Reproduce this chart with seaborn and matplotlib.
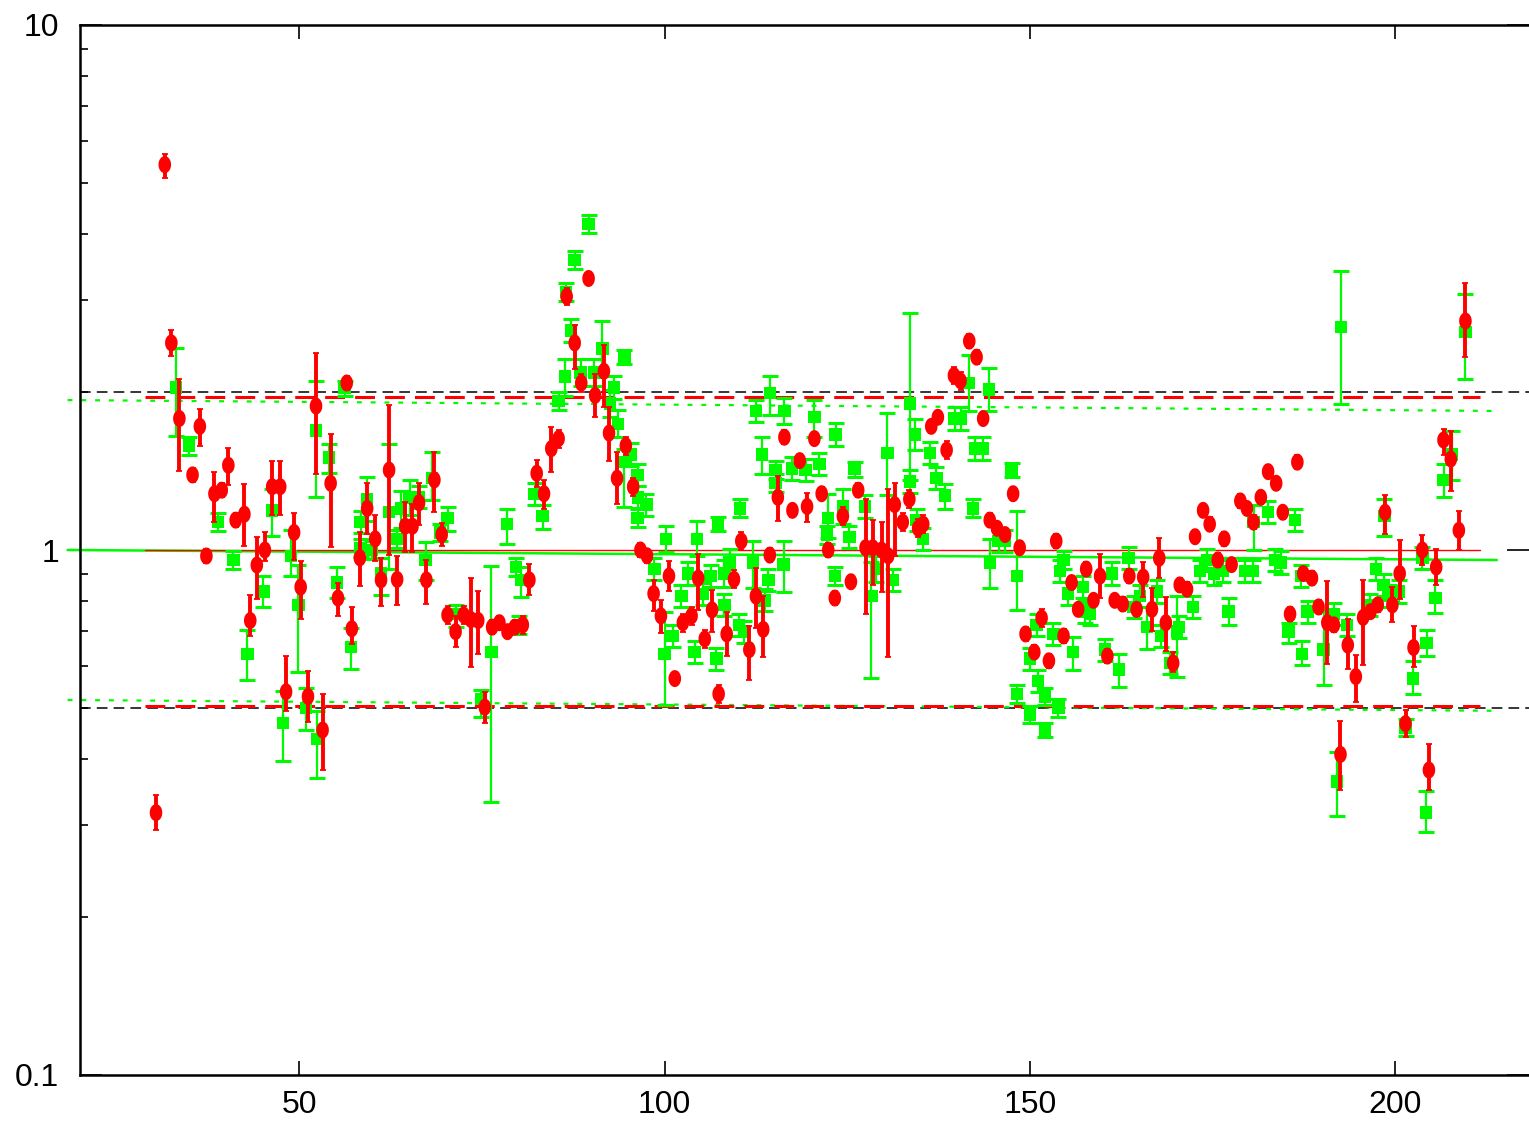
import numpy as np
import pandas as pd
import matplotlib
matplotlib.use("Agg")
import matplotlib.pyplot as plt
from matplotlib.path import Path
from matplotlib.ticker import LogLocator, NullFormatter, FixedLocator, FixedFormatter
import seaborn as sns

# ---- red series: position, value, upper / lower error factors ----
red_x = [30.4, 31.6, 32.5, 33.6, 35.4, 36.4, 37.3, 38.4, 39.4, 40.3,
         41.3, 42.5, 43.3, 44.2, 45.3, 46.3, 47.4, 48.2, 49.3, 50.2,
         51.2, 52.3, 53.2, 54.3, 55.3, 56.5, 57.2, 58.3, 59.3, 60.4,
         61.2, 62.3, 63.4, 64.5, 65.5, 66.4, 67.4, 68.5, 69.5, 70.3,
         71.4, 72.5, 73.5, 74.5, 75.4, 76.4, 77.4, 78.5, 79.5, 80.6,
         81.5, 82.5, 83.5, 84.5, 85.5, 86.6, 87.7, 88.6, 89.6, 90.5,
         91.7, 92.4, 93.5, 94.7, 95.7, 96.7, 97.6, 98.5, 99.5, 100.6,
         101.4, 102.5, 103.7, 104.6, 105.5, 106.5, 107.4, 108.5, 109.5, 110.5,
         111.6, 112.5, 113.5, 114.4, 115.5, 116.4, 117.5, 118.5, 119.5, 120.5,
         121.5, 122.4, 123.3, 124.4, 125.5, 126.5, 127.5, 128.5, 129.7, 130.6,
         131.5, 132.6, 133.5, 134.7, 135.4, 136.5, 137.4, 138.6, 139.6, 140.5,
         141.7, 142.7, 143.6, 144.5, 145.5, 146.6, 147.7, 148.6, 149.4, 150.6,
         151.6, 152.6, 153.6, 154.6, 155.7, 156.6, 157.7, 158.7, 159.6, 160.6,
         161.6, 162.7, 163.6, 164.6, 165.5, 166.7, 167.7, 168.6, 169.6, 170.5,
         171.5, 172.6, 173.7, 174.6, 175.7, 176.6, 177.6, 178.8, 179.7, 180.6,
         181.6, 182.6, 183.7, 184.6, 185.6, 186.6, 187.4, 188.6, 189.5, 190.7,
         191.6, 192.5, 193.5, 194.6, 195.6, 196.6, 197.6, 198.6, 199.6, 200.6,
         201.4, 202.5, 203.7, 204.6, 205.6, 206.6, 207.6, 208.7, 209.6]
red_y = [0.316, 5.42, 2.48, 1.78, 1.39, 1.72, 0.974, 1.28, 1.30, 1.45,
         1.14, 1.17, 0.734, 0.936, 1.00, 1.32, 1.32, 0.537, 1.08, 0.850,
         0.526, 1.88, 0.454, 1.34, 0.810, 2.08, 0.708, 0.966, 1.20, 1.05,
         0.877, 1.42, 0.879, 1.11, 1.11, 1.23, 0.877, 1.36, 1.07, 0.752,
         0.699, 0.752, 0.737, 0.734, 0.502, 0.713, 0.727, 0.699, 0.713, 0.720,
         0.877, 1.40, 1.28, 1.56, 1.63, 3.04, 2.48, 2.08, 3.29, 1.97,
         2.19, 1.67, 1.37, 1.58, 1.32, 1.00, 0.975, 0.826, 0.749, 0.892,
         0.569, 0.727, 0.749, 0.884, 0.677, 0.769, 0.532, 0.692, 0.879, 1.04,
         0.646, 0.817, 0.706, 0.978, 1.26, 1.64, 1.19, 1.48, 1.21, 1.63,
         1.28, 1.00, 0.810, 1.16, 0.870, 1.30, 1.01, 1.01, 1.00, 0.975,
         1.22, 1.13, 1.25, 1.10, 1.12, 1.72, 1.79, 1.55, 2.15, 2.10,
         2.50, 2.33, 1.78, 1.14, 1.10, 1.07, 1.28, 1.01, 0.692, 0.639,
         0.742, 0.615, 1.04, 0.686, 0.867, 0.771, 0.920, 0.802, 0.892, 0.628,
         0.802, 0.789, 0.892, 0.771, 0.888, 0.771, 0.965, 0.727, 0.609, 0.858,
         0.842, 1.06, 1.19, 1.12, 0.957, 1.05, 0.938, 1.24, 1.20, 1.13,
         1.26, 1.41, 1.34, 1.18, 0.755, 1.47, 0.902, 0.884, 0.779, 0.727,
         0.720, 0.408, 0.659, 0.574, 0.744, 0.763, 0.786, 1.18, 0.786, 0.902,
         0.467, 0.652, 1.00, 0.381, 0.928, 1.62, 1.49, 1.09, 2.73]
red_up = [1.08, 1.05, 1.06, 1.19, 1.03, 1.08, 1.03, 1.10, 1.03, 1.08,
          1.03, 1.14, 1.12, 1.13, 1.08, 1.12, 1.12, 1.17, 1.09, 1.12,
          1.12, 1.26, 1.17, 1.24, 1.07, 1.03, 1.10, 1.12, 1.12, 1.11,
          1.10, 1.33, 1.11, 1.11, 1.10, 1.09, 1.09, 1.13, 1.05, 1.04,
          1.07, 1.04, 1.20, 1.14, 1.07, 1.03, 1.03, 1.03, 1.03, 1.04,
          1.07, 1.06, 1.06, 1.10, 1.04, 1.04, 1.08, 1.04, 1.03, 1.10,
          1.12, 1.12, 1.12, 1.04, 1.04, 1.03, 1.03, 1.06, 1.07, 1.07,
          1.03, 1.04, 1.04, 1.11, 1.04, 1.09, 1.04, 1.10, 1.04, 1.04,
          1.11, 1.13, 1.16, 1.03, 1.10, 1.03, 1.03, 1.03, 1.06, 1.03,
          1.03, 1.03, 1.03, 1.04, 1.03, 1.03, 1.24, 1.13, 1.13, 1.34,
          1.10, 1.04, 1.04, 1.04, 1.04, 1.03, 1.03, 1.04, 1.04, 1.04,
          1.03, 1.03, 1.03, 1.03, 1.03, 1.03, 1.03, 1.03, 1.03, 1.03,
          1.04, 1.03, 1.03, 1.03, 1.03, 1.03, 1.03, 1.03, 1.10, 1.03,
          1.03, 1.03, 1.03, 1.03, 1.07, 1.10, 1.09, 1.12, 1.05, 1.03,
          1.03, 1.03, 1.03, 1.03, 1.03, 1.03, 1.03, 1.03, 1.03, 1.03,
          1.03, 1.03, 1.03, 1.03, 1.03, 1.03, 1.03, 1.03, 1.03, 1.20,
          1.03, 1.16, 1.12, 1.10, 1.18, 1.03, 1.03, 1.08, 1.08, 1.16,
          1.06, 1.10, 1.07, 1.12, 1.08, 1.05, 1.13, 1.09, 1.18]
red_dn = [1.08, 1.06, 1.06, 1.26, 1.03, 1.09, 1.03, 1.13, 1.03, 1.09,
          1.03, 1.15, 1.07, 1.16, 1.05, 1.13, 1.13, 1.09, 1.13, 1.15,
          1.12, 1.35, 1.19, 1.32, 1.08, 1.03, 1.07, 1.13, 1.12, 1.10,
          1.12, 1.45, 1.12, 1.12, 1.12, 1.10, 1.11, 1.15, 1.05, 1.04,
          1.07, 1.04, 1.23, 1.16, 1.07, 1.03, 1.03, 1.03, 1.03, 1.04,
          1.07, 1.06, 1.07, 1.11, 1.04, 1.04, 1.12, 1.04, 1.03, 1.10,
          1.17, 1.13, 1.12, 1.04, 1.04, 1.03, 1.03, 1.08, 1.08, 1.07,
          1.03, 1.04, 1.04, 1.15, 1.04, 1.10, 1.04, 1.10, 1.04, 1.04,
          1.14, 1.15, 1.13, 1.03, 1.11, 1.03, 1.03, 1.03, 1.07, 1.03,
          1.03, 1.03, 1.03, 1.04, 1.03, 1.03, 1.34, 1.18, 1.20, 1.56,
          1.25, 1.04, 1.04, 1.04, 1.04, 1.03, 1.03, 1.04, 1.04, 1.04,
          1.03, 1.03, 1.03, 1.03, 1.03, 1.03, 1.03, 1.03, 1.03, 1.03,
          1.04, 1.03, 1.03, 1.03, 1.03, 1.03, 1.03, 1.03, 1.10, 1.03,
          1.03, 1.03, 1.03, 1.03, 1.09, 1.10, 1.09, 1.13, 1.04, 1.03,
          1.03, 1.03, 1.03, 1.03, 1.03, 1.03, 1.03, 1.03, 1.03, 1.03,
          1.03, 1.03, 1.03, 1.03, 1.03, 1.03, 1.03, 1.03, 1.03, 1.20,
          1.03, 1.17, 1.11, 1.12, 1.23, 1.03, 1.03, 1.10, 1.08, 1.12,
          1.06, 1.09, 1.07, 1.09, 1.08, 1.07, 1.15, 1.09, 1.17]

# ---- green series ----
green_x = [33.1, 34.9, 38.9, 41.0, 42.9, 45.1, 46.3, 47.8, 48.9, 49.9,
           50.9, 52.5, 52.3, 54.1, 55.2, 56.2, 57.1, 58.4, 58.4, 59.3,
           60.0, 61.2, 62.3, 63.4, 63.9, 65.1, 66.4, 67.3, 68.2, 69.3,
           70.3, 71.5, 74.9, 76.3, 78.4, 79.7, 80.4, 80.1, 82.2, 83.3,
           85.5, 86.4, 86.5, 87.2, 87.7, 88.5, 89.6, 90.4, 91.5, 92.5,
           93.1, 93.6, 94.5, 94.5, 95.4, 96.3, 96.4, 97.5, 96.3, 98.6,
           100.0, 100.2, 101.1, 102.3, 103.2, 104.1, 104.4, 105.2, 106.3, 107.1,
           107.3, 108.2, 108.2, 108.9, 110.2, 110.3, 110.9, 112.1, 112.5, 113.3,
           113.7, 114.2, 114.4, 115.2, 115.2, 116.3, 116.4, 117.4, 119.3, 120.5,
           121.2, 122.4, 122.2, 123.3, 123.4, 124.4, 125.3, 126.0, 127.4, 128.3,
           129.0, 130.5, 131.3, 133.6, 133.6, 134.3, 134.5, 135.4, 136.3, 137.2,
           138.4, 139.7, 140.6, 141.6, 142.2, 142.5, 143.6, 144.4, 144.5, 145.7,
           146.6, 147.5, 148.2, 148.2, 150.0, 150.0, 150.9, 151.1, 152.1, 152.1,
           153.2, 153.9, 154.1, 154.6, 155.2, 155.9, 157.3, 157.5, 158.2, 160.3,
           161.2, 162.2, 163.5, 164.2, 165.1, 166.0, 167.4, 168.0, 169.2, 170.1,
           170.4, 172.3, 173.3, 174.2, 175.2, 176.4, 177.2, 179.5, 180.5, 180.6,
           182.6, 183.6, 184.3, 185.4, 186.3, 187.1, 187.2, 188.0, 190.2, 191.6,
           192.0, 192.6, 193.4, 196.6, 197.4, 198.4, 198.5, 199.1, 200.5, 201.4,
           202.4, 203.7, 204.2, 204.3, 205.5, 206.6, 207.8, 209.6]
green_y = [2.04, 1.58, 1.13, 0.957, 0.634, 0.834, 1.19, 0.468, 0.974, 0.786,
           0.500, 0.437, 1.69, 1.50, 0.867, 2.04, 0.653, 1.13, 1.01, 1.25,
           1.00, 0.902, 1.18, 1.05, 1.20, 1.26, 1.26, 0.957, 1.37, 1.08,
           1.15, 0.755, 0.520, 0.639, 1.12, 0.928, 0.877, 0.720, 1.28, 1.16,
           1.92, 2.14, 3.10, 2.62, 3.57, 2.18, 4.18, 2.18, 2.42, 1.90,
           2.04, 1.74, 2.33, 1.47, 1.52, 1.39, 1.26, 1.22, 1.15, 0.920,
           0.634, 1.05, 0.686, 0.817, 0.902, 0.639, 1.05, 0.824, 0.892, 0.621,
           1.12, 0.902, 0.786, 0.947, 0.720, 1.20, 0.699, 0.947, 1.84, 1.52,
           0.802, 0.877, 1.99, 1.42, 1.34, 0.938, 1.84, 1.43, 1.42, 1.79,
           1.46, 1.15, 1.07, 0.892, 1.66, 1.21, 1.06, 1.43, 1.21, 0.817,
           0.920, 1.53, 0.877, 1.90, 1.35, 1.66, 1.14, 1.05, 1.53, 1.37,
           1.27, 1.78, 1.78, 2.08, 1.20, 1.56, 1.56, 2.02, 0.947, 1.04,
           1.04, 1.42, 0.892, 0.532, 0.486, 0.621, 0.720, 0.563, 0.526, 0.454,
           0.692, 0.501, 0.911, 0.957, 0.826, 0.639, 0.850, 0.763, 0.755, 0.646,
           0.902, 0.592, 0.965, 0.779, 0.817, 0.713, 0.834, 0.686, 0.609, 0.699,
           0.713, 0.779, 0.911, 0.957, 0.902, 0.911, 0.763, 0.911, 0.911, 1.13,
           1.18, 0.957, 0.947, 0.699, 1.14, 0.892, 0.634, 0.763, 0.646, 0.755,
           0.362, 2.66, 0.720, 0.786, 0.920, 0.858, 1.16, 0.817, 0.834, 0.459,
           0.569, 0.965, 0.316, 0.665, 0.810, 1.36, 1.52, 2.60]
green_up = [1.19, 1.04, 1.04, 1.04, 1.11, 1.07, 1.10, 1.15, 1.12, 1.19,
            1.09, 1.13, 1.24, 1.06, 1.07, 1.03, 1.09, 1.05, 1.04, 1.10,
            1.04, 1.07, 1.35, 1.04, 1.08, 1.08, 1.05, 1.08, 1.12, 1.04,
            1.05, 1.04, 1.04, 1.46, 1.07, 1.04, 1.06, 1.04, 1.05, 1.05,
            1.04, 1.08, 1.04, 1.05, 1.04, 1.06, 1.04, 1.06, 1.13, 1.06,
            1.05, 1.06, 1.03, 1.06, 1.05, 1.05, 1.05, 1.05, 1.04, 1.05,
            1.20, 1.06, 1.05, 1.05, 1.05, 1.05, 1.08, 1.05, 1.05, 1.05,
            1.03, 1.06, 1.05, 1.06, 1.05, 1.04, 1.05, 1.10, 1.05, 1.08,
            1.05, 1.05, 1.08, 1.04, 1.04, 1.11, 1.06, 1.05, 1.05, 1.08,
            1.05, 1.11, 1.04, 1.04, 1.05, 1.08, 1.05, 1.03, 1.05, 1.16,
            1.06, 1.19, 1.05, 1.49, 1.05, 1.07, 1.05, 1.05, 1.05, 1.05,
            1.05, 1.05, 1.05, 1.13, 1.04, 1.05, 1.05, 1.10, 1.11, 1.05,
            1.05, 1.03, 1.33, 1.04, 1.04, 1.05, 1.05, 1.05, 1.04, 1.03,
            1.05, 1.04, 1.05, 1.04, 1.05, 1.07, 1.05, 1.05, 1.05, 1.05,
            1.05, 1.07, 1.05, 1.05, 1.05, 1.09, 1.05, 1.05, 1.05, 1.17,
            1.05, 1.05, 1.05, 1.05, 1.05, 1.05, 1.06, 1.05, 1.05, 1.08,
            1.05, 1.05, 1.05, 1.04, 1.05, 1.05, 1.06, 1.05, 1.19, 1.05,
            1.14, 1.28, 1.05, 1.05, 1.05, 1.05, 1.08, 1.05, 1.05, 1.04,
            1.08, 1.05, 1.10, 1.06, 1.08, 1.07, 1.11, 1.18]
green_dn = [1.24, 1.04, 1.04, 1.04, 1.12, 1.07, 1.12, 1.18, 1.09, 1.34,
            1.10, 1.19, 1.34, 1.07, 1.07, 1.04, 1.10, 1.05, 1.04, 1.10,
            1.04, 1.10, 1.28, 1.04, 1.09, 1.08, 1.05, 1.09, 1.10, 1.04,
            1.06, 1.06, 1.08, 1.93, 1.09, 1.04, 1.08, 1.04, 1.05, 1.06,
            1.04, 1.09, 1.04, 1.05, 1.04, 1.06, 1.04, 1.06, 1.13, 1.06,
            1.05, 1.06, 1.03, 1.22, 1.05, 1.05, 1.05, 1.05, 1.04, 1.05,
            1.25, 1.06, 1.05, 1.05, 1.05, 1.05, 1.08, 1.05, 1.05, 1.05,
            1.03, 1.06, 1.05, 1.06, 1.05, 1.04, 1.05, 1.12, 1.05, 1.09,
            1.05, 1.05, 1.10, 1.04, 1.04, 1.13, 1.06, 1.05, 1.05, 1.09,
            1.05, 1.09, 1.04, 1.04, 1.05, 1.08, 1.05, 1.04, 1.05, 1.43,
            1.06, 1.20, 1.05, 1.40, 1.05, 1.07, 1.05, 1.05, 1.05, 1.05,
            1.06, 1.05, 1.05, 1.13, 1.04, 1.05, 1.05, 1.10, 1.12, 1.05,
            1.05, 1.03, 1.16, 1.04, 1.04, 1.05, 1.05, 1.05, 1.04, 1.03,
            1.05, 1.04, 1.05, 1.04, 1.05, 1.08, 1.05, 1.05, 1.05, 1.05,
            1.05, 1.08, 1.05, 1.05, 1.05, 1.10, 1.05, 1.05, 1.05, 1.22,
            1.05, 1.05, 1.05, 1.05, 1.05, 1.05, 1.06, 1.05, 1.05, 1.13,
            1.05, 1.05, 1.05, 1.05, 1.05, 1.05, 1.05, 1.05, 1.17, 1.05,
            1.16, 1.40, 1.05, 1.05, 1.05, 1.05, 1.09, 1.05, 1.05, 1.04,
            1.07, 1.05, 1.09, 1.06, 1.07, 1.08, 1.12, 1.23]

# ---- reference levels ----
black_levels = [2.0, 0.5]
red_band_x = [28.9, 211.6]
red_levels = [1.96, 1.0, 0.504]
green_band_x = [18.3, 213.9]
green_upper = [1.93, 1.84]
green_middle = [1.0, 0.957]
green_lower = [0.518, 0.494]

x_ticks = [50, 100, 150, 200]
y_ticks = [0.1, 1, 10]
y_tick_labels = ["0.1", "1", "10"]

RED = "#ff0000"
GREEN = "#00fa00"

sns.set_theme(style="ticks")
plt.rcParams["font.family"] = ["Liberation Sans", "DejaVu Sans"]

fig = plt.figure(figsize=(15.29, 11.24), dpi=100)
ax = fig.add_axes([80 / 1529, 49 / 1124, 1449 / 1529, 1050 / 1124])

ax.set_yscale("log")
ax.set_xlim(20, 218.3)
ax.set_ylim(0.1, 10)

# horizontal reference bands
for lvl in black_levels:
    ax.axhline(lvl, color="black", lw=1.1, dashes=(7, 4), zorder=1)
ax.plot(red_band_x, [red_levels[0]] * 2, color=RED, lw=2.2, dashes=(6.5, 3.3), zorder=1.2)
ax.plot(red_band_x, [red_levels[2]] * 2, color=RED, lw=2.2, dashes=(6.5, 3.3), zorder=1.2)
ax.plot(green_band_x, green_upper, color=GREEN, lw=1.6, dashes=(2.2, 4), zorder=1.1, clip_on=False)
ax.plot(green_band_x, green_lower, color=GREEN, lw=1.6, dashes=(2.2, 4), zorder=1.1, clip_on=False)
ax.plot(green_band_x, green_middle, color=GREEN, lw=1.8, zorder=1.1, clip_on=False)
ax.plot(red_band_x, [red_levels[1]] * 2, color=RED, lw=1.0, zorder=1.3)

green = pd.DataFrame({"x": green_x, "y": green_y, "up": green_up, "dn": green_dn})
red = pd.DataFrame({"x": red_x, "y": red_y, "up": red_up, "dn": red_dn})

# green measurements: wide-capped bars and square markers
ax.errorbar(green["x"], green["y"],
            yerr=[green["y"] - green["y"] / green["dn"], green["y"] * green["up"] - green["y"]],
            fmt="none", ecolor=GREEN, elinewidth=1.6, capsize=6, capthick=2.2, zorder=2)
sns.scatterplot(data=green, x="x", y="y", marker="s", s=80, color=GREEN,
                edgecolor="none", linewidth=0, ax=ax, zorder=3, legend=False)

# red measurements: thick bars with small caps and tall oval markers
t = np.linspace(0, 2 * np.pi, 41)
oval = Path(np.column_stack([0.74 * np.cos(t), np.sin(t)]), closed=True)
ax.errorbar(red["x"], red["y"],
            yerr=[red["y"] - red["y"] / red["dn"], red["y"] * red["up"] - red["y"]],
            fmt="none", ecolor=RED, elinewidth=2.8, capsize=2.4, capthick=1.3, zorder=4)
sns.scatterplot(data=red, x="x", y="y", marker=oval, s=150, color=RED,
                edgecolor="none", linewidth=0, ax=ax, zorder=5, legend=False)

# axes styling
ax.xaxis.set_major_locator(FixedLocator(x_ticks))
ax.xaxis.set_minor_locator(FixedLocator([]))
ax.yaxis.set_major_locator(FixedLocator(y_ticks))
ax.yaxis.set_major_formatter(FixedFormatter(y_tick_labels))
ax.yaxis.set_minor_locator(LogLocator(base=10, subs=np.arange(2, 10)))
ax.yaxis.set_minor_formatter(NullFormatter())

ax.tick_params(axis="x", which="major", direction="in", top=True, bottom=True,
               length=10, width=1.2, labelsize=23, pad=11, colors="black")
ax.tick_params(axis="y", which="major", direction="in", left=True, right=True,
               length=16, width=1.2, labelsize=23, pad=15, colors="black")
ax.tick_params(axis="y", which="minor", direction="in", left=True, right=False,
               length=6, width=1.2, colors="black")

for side in ["left", "top", "bottom"]:
    ax.spines[side].set_linewidth(1.8)
    ax.spines[side].set_color("black")
ax.spines["right"].set_visible(False)

ax.set_xlabel("")
ax.set_ylabel("")
ax.grid(False)
ax.set_facecolor("white")
fig.patch.set_facecolor("white")

fig.savefig("out.png", dpi=100)
